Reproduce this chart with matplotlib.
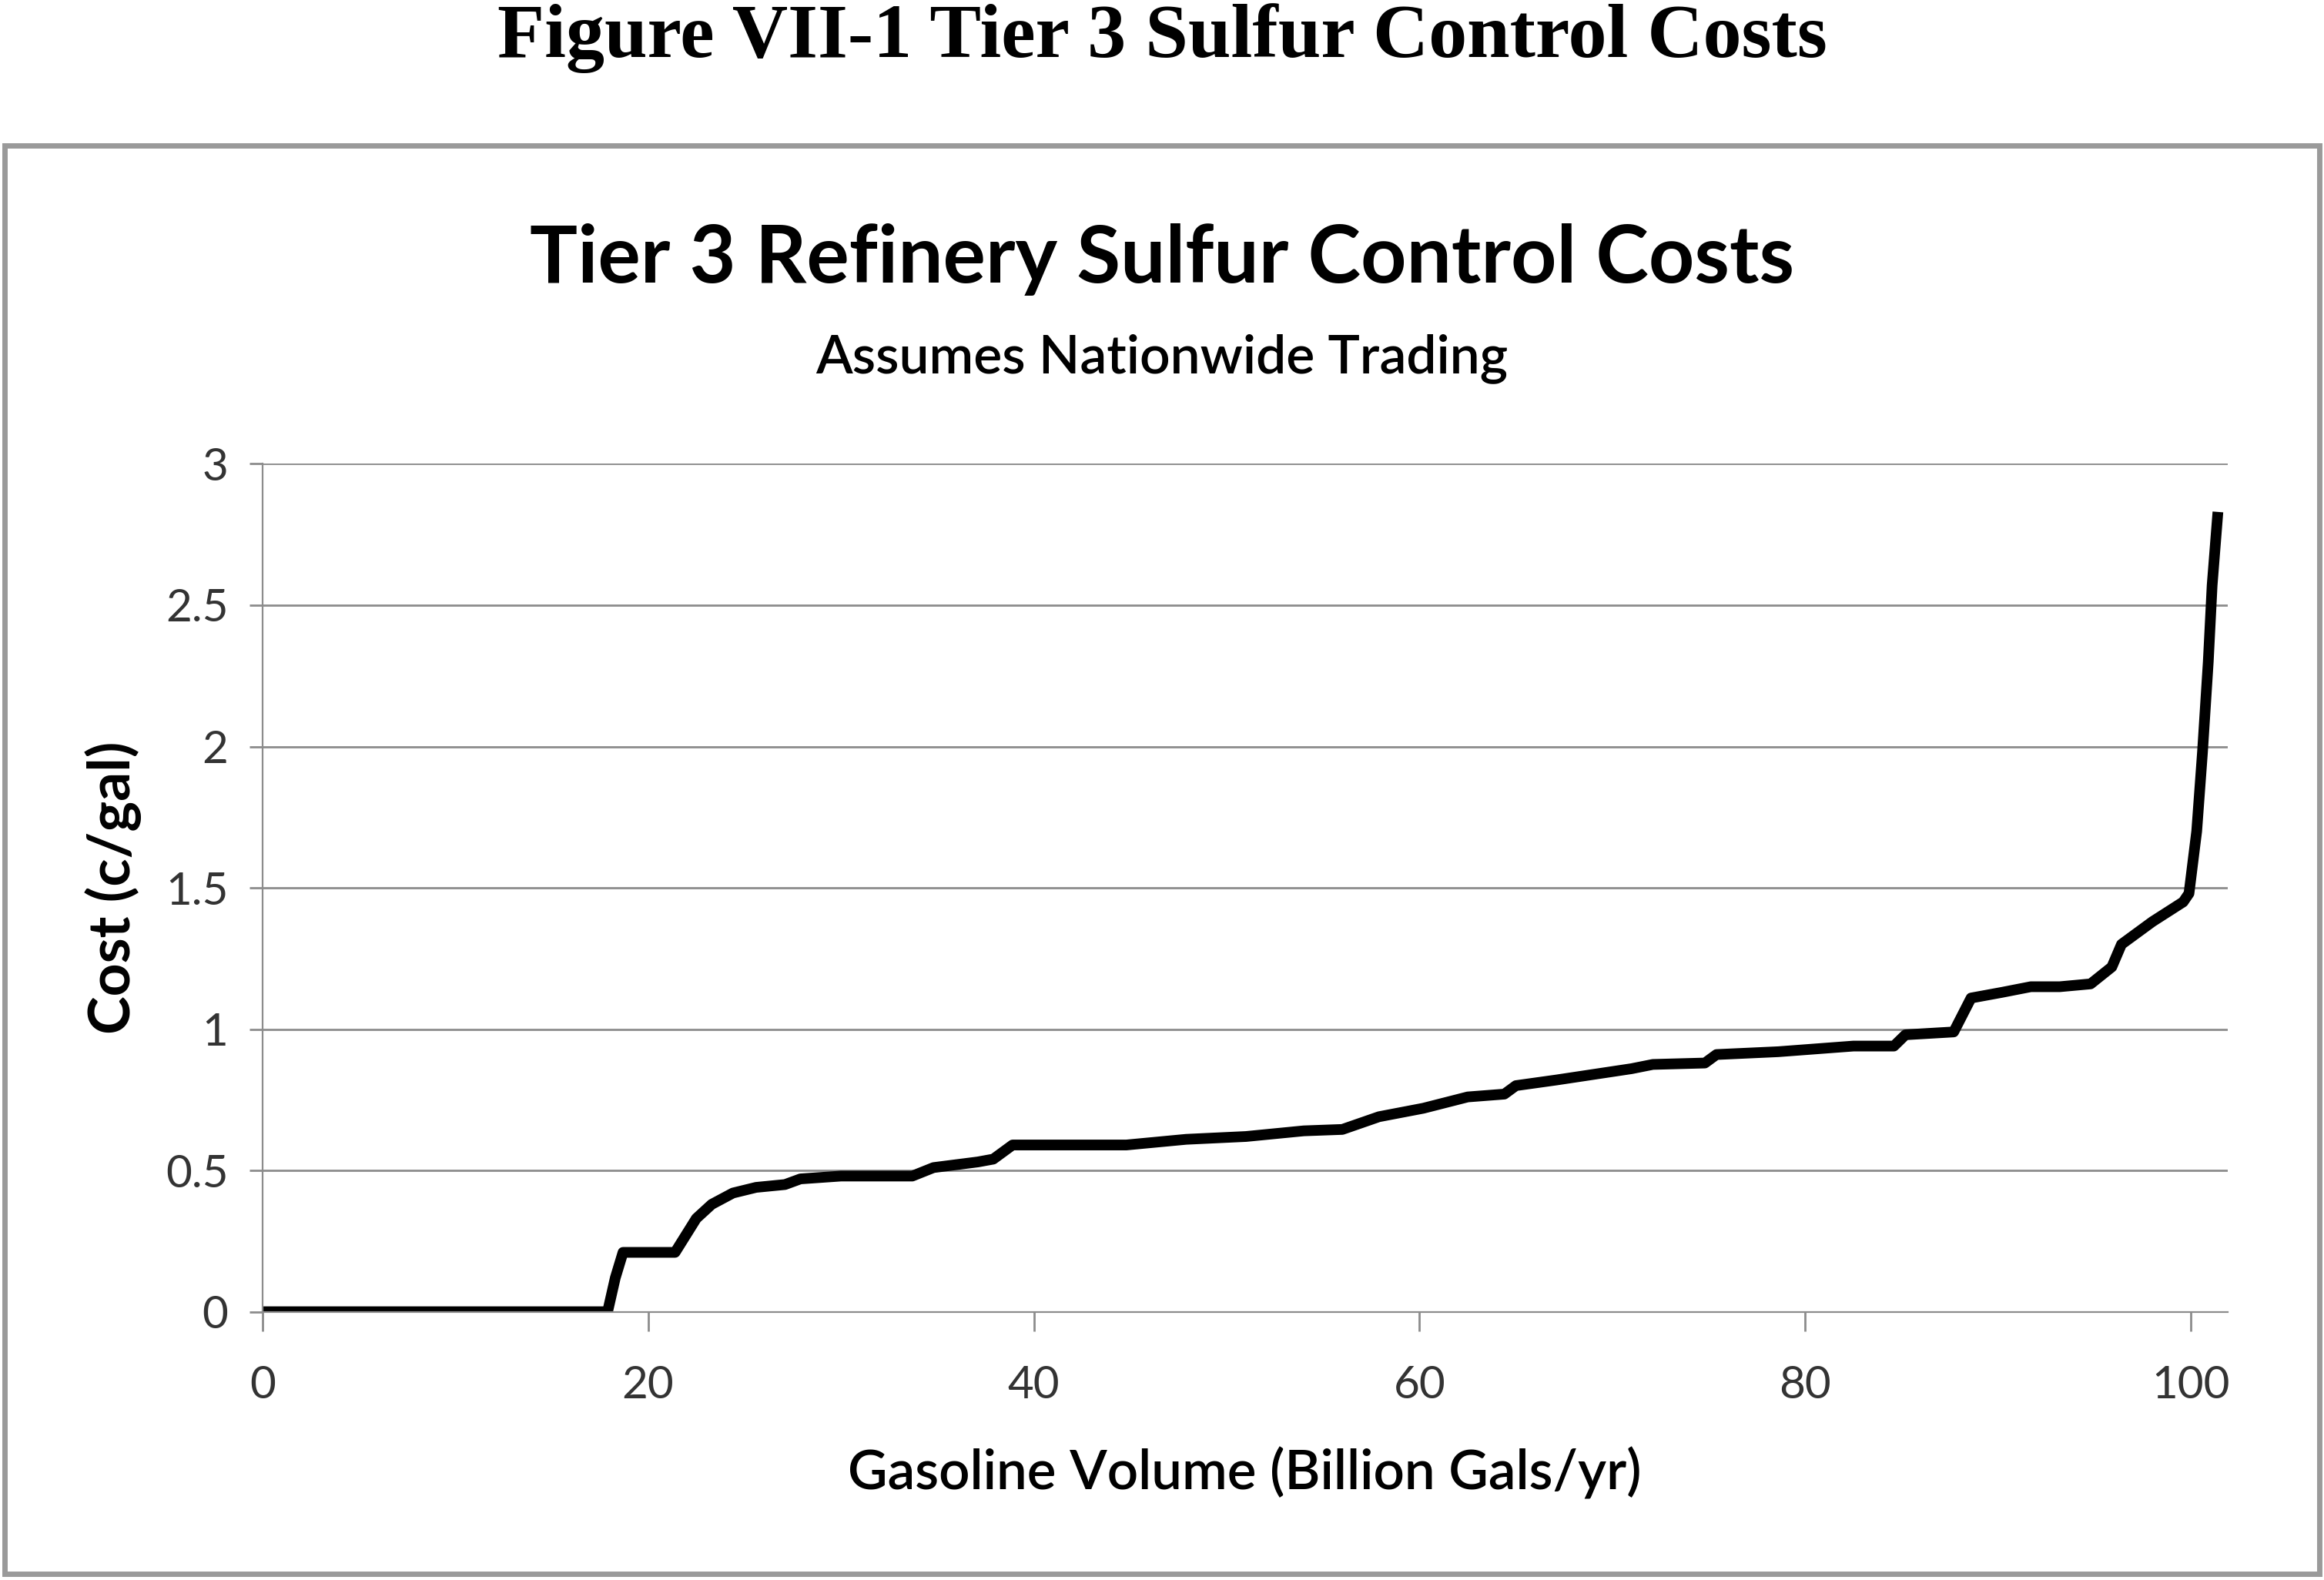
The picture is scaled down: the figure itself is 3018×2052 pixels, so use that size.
import numpy as np
import matplotlib.pyplot as plt
from matplotlib.patches import Rectangle

# data
volume = [0, 17.9, 18.3, 18.7, 21.4, 22.5, 23.3, 24.4, 25.6, 27.1, 27.9, 30.0, 33.7,
          34.8, 37.1, 37.9, 38.9, 41.0, 44.8, 47.9, 51.0, 54.0, 56.0, 57.9, 60.2,
          62.5, 64.4, 65.0, 67.1, 71.0, 72.1, 74.8, 75.4, 78.6, 82.5, 84.6, 85.2,
          87.7, 88.6, 90.2, 91.7, 93.2, 94.8, 95.9, 96.4, 98.0, 99.6, 99.9, 100.3,
          100.6, 100.9, 101.1, 101.4]
cost = [0, 0, 0.12, 0.21, 0.21, 0.33, 0.38, 0.42, 0.44, 0.45, 0.47, 0.48, 0.48,
        0.51, 0.53, 0.54, 0.59, 0.59, 0.59, 0.61, 0.62, 0.64, 0.645, 0.69, 0.72,
        0.76, 0.77, 0.80, 0.82, 0.86, 0.875, 0.88, 0.91, 0.92, 0.94, 0.94, 0.98,
        0.99, 1.11, 1.13, 1.15, 1.15, 1.16, 1.22, 1.30, 1.38, 1.45, 1.48, 1.70,
        1.98, 2.30, 2.57, 2.83]

x_ticks = [0, 20, 40, 60, 80, 100]
y_ticks = [0, 0.5, 1, 1.5, 2, 2.5, 3]
y_tick_labels = ["0", "0.5", "1", "1.5", "2", "2.5", "3"]

font = "Lato"
grid_grey = "#8c8c8c"

fig = plt.figure(figsize=(15.09, 10.26), dpi=200)

# page heading above the chart box
fig.text(0.5, 0.976, "Figure VII-1 Tier 3 Sulfur Control Costs", ha="center", va="center",
         fontsize=36, fontweight="bold", family="Liberation Serif")

# grey frame round the chart
fig.patches.append(Rectangle((0.002, 0.004), 0.996, 0.904, transform=fig.transFigure,
                             fill=False, edgecolor="#9a9a9a", linewidth=2.5))

fig.text(0.5, 0.836, "Tier 3 Refinery Sulfur Control Costs", ha="center", va="center",
         fontsize=37.3, fontweight="bold", family=font)
fig.text(0.5, 0.773, "Assumes Nationwide Trading", ha="center", va="center",
         fontsize=25, fontweight="semibold", family=font)

ax = fig.add_axes([0.1129, 0.1698, 0.8456, 0.5366])
ax.plot(volume, cost, color="black", linewidth=5, solid_joinstyle="round",
        solid_capstyle="butt")

ax.set_xlim(0, 101.9)
ax.set_ylim(0, 3)
ax.set_xticks(x_ticks)
ax.set_yticks(y_ticks)
ax.set_yticklabels(y_tick_labels)
ax.yaxis.grid(True, color=grid_grey, linewidth=1.0)
ax.set_axisbelow(True)

for side in ["top", "right"]:
    ax.spines[side].set_visible(False)
ax.spines["left"].set_color(grid_grey)
ax.spines["bottom"].set_color(grid_grey)
ax.tick_params(axis="x", length=9, width=1.0, color=grid_grey, pad=16,
               labelsize=21, labelcolor="#333333")
ax.tick_params(axis="y", length=6, width=1.0, color=grid_grey, pad=10,
               labelsize=21, labelcolor="#333333")
for lbl in ax.get_xticklabels() + ax.get_yticklabels():
    lbl.set_family(font)

ax.set_xlabel("Gasoline Volume (Billion Gals/yr)", fontsize=25.5, family=font,
              fontweight="semibold", labelpad=19)
ax.set_ylabel("Cost (c/gal)", fontsize=27, family=font, fontweight="bold",
              labelpad=11)

plt.savefig("out.png", dpi=200)
